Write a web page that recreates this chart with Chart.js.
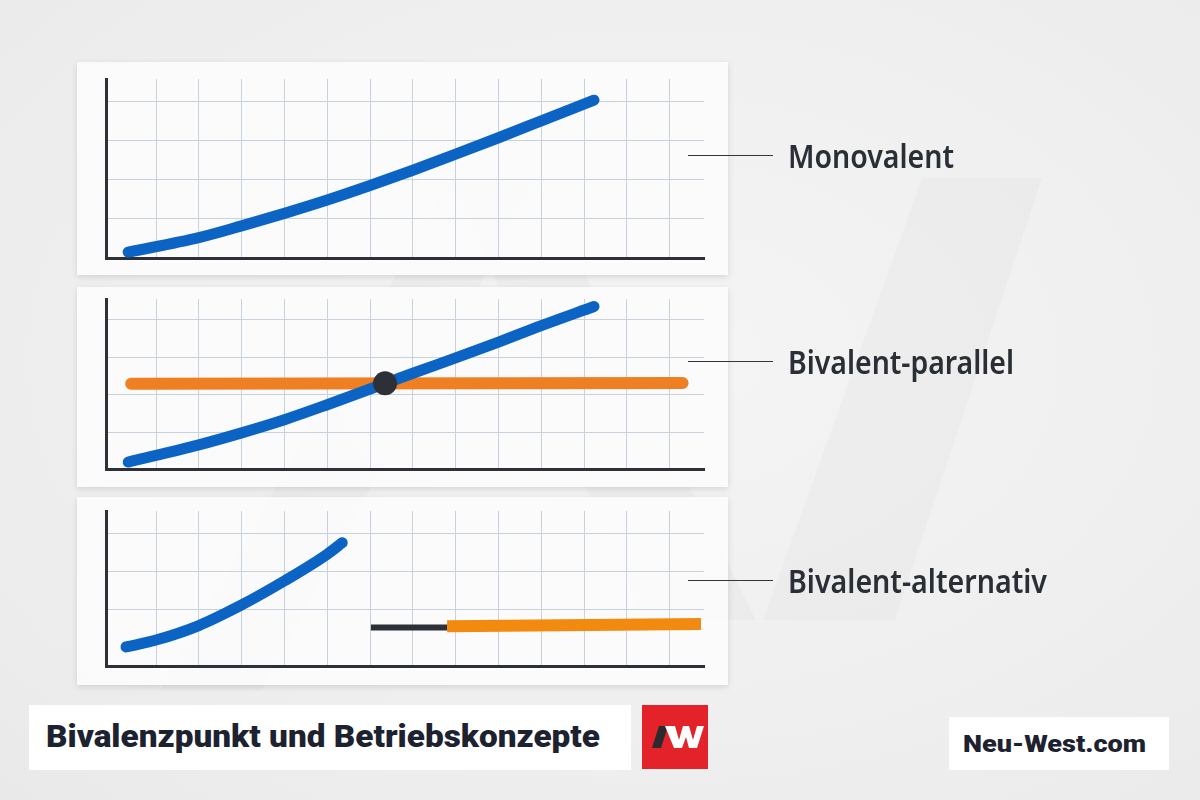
<!DOCTYPE html>
<html lang="de">
<head>
  <meta charset="UTF-8">
  <title>Bivalenzpunkt und Betriebskonzepte</title>
  <script src="https://cdn.jsdelivr.net/npm/chart.js"></script>
  <style>
    html, body { margin: 0; padding: 0; }
    body {
      width: 1200px; height: 800px; position: relative; overflow: hidden;
      background: radial-gradient(ellipse at 55% 45%, #f4f4f4 0%, #efefef 60%, #e9e9e9 100%);
      font-family: "Noto Sans", sans-serif;
    }
    #watermark { position: absolute; left: 0; top: 0; }
    .card {
      position: absolute; left: 77px; width: 651px;
      background: rgba(252, 252, 252, 0.9);
      box-shadow: 0 2px 6px rgba(0, 0, 0, 0.12);
    }
    .card canvas { display: block; }
    .label {
      position: absolute; left: 688px; height: 40px;
      display: flex; align-items: center;
    }
    .label .lead { width: 85px; height: 0; border-top: 1.5px solid #33363b; margin-right: 15px; }
    .label .txt {
      font-family: "Noto Sans", sans-serif; font-weight: 600; font-size: 32px;
      color: #2a2e35; white-space: nowrap; transform-origin: left center;
    }
    .box { position: absolute; background: #fff; }
    .fit { position: absolute; white-space: nowrap; transform-origin: left center; }
  </style>
</head>
<body>
  <svg id="watermark" width="1200" height="800">
    <g fill="rgba(0,0,0,0.018)">
      <polygon points="160,690 262,690 537,178 451,178"/>
      <polygon points="451,178 537,178 756,620 643,620"/>
      <polygon points="922,178 1042,178 895,620 763,620"/>
    </g>
  </svg>

  <div class="card" style="top:62px;height:213px"><canvas id="c1" width="651" height="213"></canvas></div>
  <div class="card" style="top:287px;height:200px"><canvas id="c2" width="651" height="200"></canvas></div>
  <div class="card" style="top:497px;height:188px"><canvas id="c3" width="651" height="188"></canvas></div>

  <div class="label" style="top:135px"><div class="lead"></div><div class="txt" data-w="166">Monovalent</div></div>
  <div class="label" style="top:341px"><div class="lead"></div><div class="txt" data-w="226">Bivalent-parallel</div></div>
  <div class="label" style="top:560px"><div class="lead"></div><div class="txt" data-w="259">Bivalent-alternativ</div></div>

  <div class="box" style="left:29px;top:705px;width:602px;height:65px"></div>
  <div class="fit" data-w="554" style="left:46px;top:717px;height:40px;line-height:40px;font-family:Roboto,sans-serif;font-weight:900;font-size:31px;color:#1d2230">Bivalenzpunkt und Betriebskonzepte</div>

  <svg style="position:absolute;left:642px;top:705px" width="66" height="64">
    <rect x="0" y="0" width="66" height="64" fill="#e42229"/>
    <polygon points="17,21 26,21 19,43 10,43" fill="#2b2b2e"/>
    <polygon points="23,21 33,21 37,35 41,21 47,21 51,35 55,21 62,21 55,43 47,43 44,32 40,43 32,43" fill="#ffffff"/>
  </svg>

  <div class="box" style="left:949px;top:717px;width:220px;height:53px"></div>
  <div class="fit" data-w="183" style="left:963px;top:730px;height:30px;line-height:30px;font-family:Roboto,sans-serif;font-weight:900;font-size:23px;color:#1d2230">Neu-West.com</div>

  <script>
    // grid positions (shared x grid, per-panel y grid)
    const xGrid = [0, 1, 2, 3, 4, 5, 6, 7, 8, 9, 10, 11, 12];
    const yGrid1 = [1, 2, 3, 4];
    const yGrid2 = [1, 2, 3, 4];
    const yGrid3 = [1.5, 2.5, 3.5];

    // Monovalent
    const monoX = [-0.65, 1, 2, 3, 4, 5, 6, 7, 8, 9, 10.23];
    const monoY = [0.15, 0.52, 0.82, 1.14, 1.48, 1.85, 2.24, 2.65, 3.07, 3.5, 4.03];

    // Bivalent-parallel
    const parHeatX = [-0.65, 1, 2, 3, 4, 5, 6, 7, 8, 9, 10.23];
    const parHeatY = [0.2, 0.66, 0.98, 1.33, 1.73, 2.15, 2.57, 2.98, 3.4, 3.84, 4.35];
    const parBaseX = [-0.58, 12.3];
    const parBaseY = [2.29, 2.31];
    const parPointX = [5.35];
    const parPointY = [2.3];

    // Bivalent-alternativ
    const altHeatX = [-0.7, 0, 1, 2, 3, 4, 4.35];
    const altHeatY = [0.52, 0.7, 1.08, 1.62, 2.25, 2.95, 3.25];
    const altGapX = [5.02, 6.8];
    const altGapY = [1.03, 1.03];
    const altBoilX = [6.8, 12.73];
    const altBoilY = [1.06, 1.12];

    const BLUE = '#0b63c4';
    const DARK = '#2d3137';
    const GRID = '#c9d1dc';

    function pts(xs, ys) {
      return xs.map((x, i) => ({ x: x, y: ys[i] }));
    }

    function lineSet(xs, ys, color, width, cap) {
      return {
        data: pts(xs, ys),
        borderColor: color,
        borderWidth: width,
        borderCapStyle: cap || 'round',
        borderJoinStyle: 'round',
        cubicInterpolationMode: 'monotone',
        pointRadius: 0,
        fill: false
      };
    }

    function makeChart(id, datasets, yTicks, yMax, padTop, padBottom) {
      return new Chart(document.getElementById(id), {
        type: 'line',
        data: { datasets: datasets },
        options: {
          responsive: false,
          animation: false,
          layout: { padding: { left: 29, right: 24, top: padTop, bottom: padBottom } },
          plugins: { legend: { display: false }, tooltip: { enabled: false } },
          scales: {
            x: {
              type: 'linear', min: -1.168, max: 12.8,
              afterBuildTicks: s => { s.ticks = xGrid.map(v => ({ value: v })); },
              ticks: { display: false },
              grid: { color: GRID, lineWidth: 1, drawTicks: false },
              border: { display: true, color: DARK, width: 3 }
            },
            y: {
              type: 'linear', min: 0, max: yMax,
              afterBuildTicks: s => { s.ticks = yTicks.map(v => ({ value: v })); },
              ticks: { display: false },
              grid: { color: GRID, lineWidth: 1, drawTicks: false },
              border: { display: true, color: DARK, width: 3 }
            }
          }
        }
      });
    }

    makeChart('c1', [lineSet(monoX, monoY, BLUE, 11)], yGrid1, 4.57, 17, 17);

    makeChart('c2', [
      {
        data: pts(parPointX, parPointY), showLine: false,
        pointRadius: 12, pointBackgroundColor: DARK, pointBorderWidth: 0
      },
      lineSet(parHeatX, parHeatY, BLUE, 11),
      lineSet(parBaseX, parBaseY, '#ee7f22', 12)
    ], yGrid2, 4.55, 8, 17.4);

    makeChart('c3', [
      lineSet(altHeatX, altHeatY, BLUE, 11),
      lineSet(altGapX, altGapY, DARK, 6, 'butt'),
      lineSet(altBoilX, altBoilY, '#f28a10', 12, 'butt')
    ], yGrid3, 4.08, 14, 18.2);

    // squeeze text to the widths seen in the picture
    document.querySelectorAll('[data-w]').forEach(el => {
      const w = el.getBoundingClientRect().width;
      el.style.transform = 'scaleX(' + (parseFloat(el.dataset.w) / w) + ')';
    });
  </script>
</body>
</html>
